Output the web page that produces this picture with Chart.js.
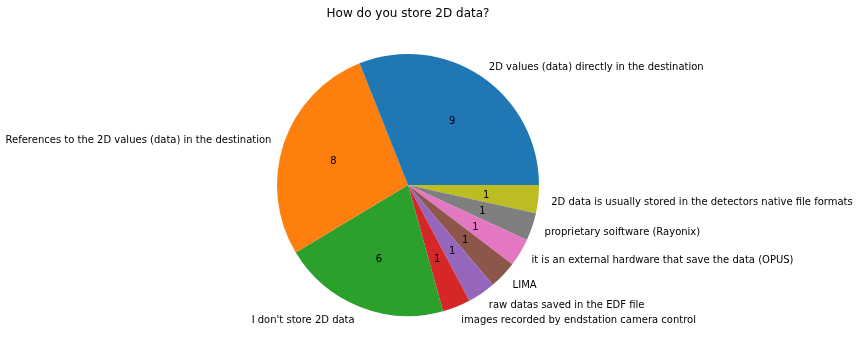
<!DOCTYPE html>
<html>
<head>
<meta charset="utf-8">
<script src="https://cdn.jsdelivr.net/npm/chart.js@4/dist/chart.umd.min.js"></script>
<style>
  html, body { margin: 0; padding: 0; background: #fff; }
  #wrap { width: 859px; height: 356px; }
</style>
</head>
<body>
<div id="wrap"><canvas id="pie" width="859" height="356"></canvas></div>
<script>
// answers, in the order matplotlib drew them (counter-clockwise from 3 o'clock)
const labels = [
  "2D values (data) directly in the destination",
  "References to the 2D values (data) in the destination",
  "I don't store 2D data",
  "images recorded by endstation camera control",
  "raw datas saved in the EDF file",
  "LIMA",
  "it is an external hardware that save the data (OPUS)",
  "proprietary soiftware (Rayonix)",
  "2D data is usually stored in the detectors native file formats"
];
const counts = [9, 8, 6, 1, 1, 1, 1, 1, 1];
const colors = ["#1f77b4", "#ff7f0e", "#2ca02c", "#d62728", "#9467bd",
                "#8c564b", "#e377c2", "#7f7f7f", "#bcbd22"];
const titleText = "How do you store 2D data?";

const FONT = "'DejaVu Sans', sans-serif";

// chart.js goes clockwise, so feed it reversed
const rev = a => a.slice().reverse();

const pieText = {
  id: 'pieText',
  afterDatasetsDraw(chart) {
    const ctx = chart.ctx;
    const meta = chart.getDatasetMeta(0);
    const lbls = chart.data.labels;
    const vals = chart.data.datasets[0].data;
    const dy = 1.5; // matplotlib centers on the full bbox, nudge down a bit
    ctx.save();
    ctx.fillStyle = '#000';
    ctx.textBaseline = 'middle';
    meta.data.forEach(function(arc, i) {
      const p = arc.getProps(['x', 'y', 'startAngle', 'endAngle', 'outerRadius'], true);
      const mid = (p.startAngle + p.endAngle) / 2;
      const c = Math.cos(mid), s = Math.sin(mid);
      // values inside
      ctx.font = '10px ' + FONT;
      ctx.textAlign = 'center';
      ctx.fillText(String(vals[i]), p.x + c * p.outerRadius * 0.6, p.y + s * p.outerRadius * 0.6 + dy);
      // labels outside
      ctx.textAlign = c >= 0 ? 'left' : 'right';
      ctx.fillText(lbls[i], p.x + c * p.outerRadius * 1.1, p.y + s * p.outerRadius * 1.1 + dy);
    });
    // title
    ctx.font = '12px ' + FONT;
    ctx.textAlign = 'center';
    ctx.fillText(titleText, (chart.chartArea.left + chart.chartArea.right) / 2, 14);
    ctx.restore();
  }
};

new Chart(document.getElementById('pie'), {
  type: 'pie',
  data: {
    labels: rev(labels),
    datasets: [{
      data: rev(counts),
      backgroundColor: rev(colors),
      borderWidth: 0
    }]
  },
  options: {
    responsive: false,
    animation: false,
    rotation: 90,
    layout: { padding: { left: 277, right: 320, top: 54, bottom: 40 } },
    plugins: {
      legend: { display: false },
      title: { display: false },
      tooltip: { enabled: false }
    }
  },
  plugins: [pieText]
});
</script>
</body>
</html>
